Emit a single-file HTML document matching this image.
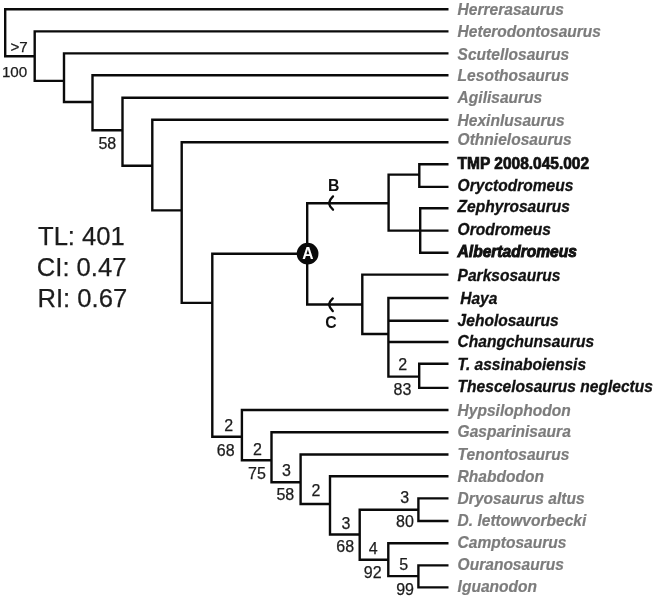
<!DOCTYPE html>
<html><head><meta charset="utf-8"><title>Phylogeny</title>
<style>
html,body{margin:0;padding:0;background:#fff;}
body{width:654px;height:600px;overflow:hidden;}
svg{display:block;filter:blur(0.45px);}
text{font-family:"Liberation Sans",sans-serif;}
.g,.b,.a,.h{font-weight:bold;font-style:italic;font-size:15.55px;}
.g{fill:#7c7c7c;stroke:#7c7c7c;stroke-width:0.2px;}
.b,.h{fill:#111;stroke:#111;stroke-width:0.3px;}
.a{fill:#111;stroke:#111;stroke-width:0.9px;}
.t{font-weight:bold;font-size:15.5px;fill:#111;stroke:#111;stroke-width:0.7px;}
.n{font-size:16px;fill:#1c1c1c;stroke:#1c1c1c;stroke-width:0.25px;text-anchor:middle;}
.s{font-size:25.6px;fill:#1c1c1c;stroke:#1c1c1c;stroke-width:0.25px;}
.l{font-weight:bold;font-size:15.8px;fill:#111;text-anchor:middle;}
</style></head>
<body>
<svg width="654" height="600" viewBox="0 0 654 600">
<rect width="654" height="600" fill="#fff"/>
<path d="M5.2 8.0V57.4M4.0 9.2H448.5M4.0 56.2H35.9M34.7 30.2V82.1M33.5 31.4H448.5M33.5 80.9H65.2M64.0 52.2V103.2M62.8 53.4H448.5M62.8 102.0H93.7M92.5 74.1V131.5M91.3 75.3H448.5M91.3 130.3H123.7M122.5 96.5V166.9M121.3 97.7H448.5M121.3 165.7H153.5M152.3 118.5V211.6M151.1 119.8H448.5M151.1 210.4H182.9M181.7 141.1V304.1M180.5 142.2H448.5M180.5 302.9H213.5M212.3 252.6V437.9M211.1 253.8H308.2M307.2 202.0V305.7M306.0 203.2H389.8M388.6 173.4V231.8M387.4 174.6H420.5M419.3 163.1V188.1M418.1 164.3H448.5M418.1 186.9H448.5M387.4 230.6H448.5M420.2 207.0V254.0M419.0 208.2H448.5M419.0 252.8H448.5M306.0 304.5H363.5M362.3 273.4V335.2M361.1 274.6H448.5M361.1 334.0H389.6M388.4 296.8V377.8M387.2 298.0H448.5M387.2 320.8H448.5M387.2 342.0H448.5M387.2 376.6H420.4M419.2 362.6V389.1M418.0 363.8H448.5M418.0 387.9H448.5M211.1 436.7H243.1M241.9 408.8V461.4M240.7 410.0H448.5M240.7 460.2H272.7M271.5 431.0V483.5M270.3 432.2H448.5M270.3 482.3H301.8M300.6 453.3V505.2M299.4 454.5H448.5M299.4 504.0H331.2M330.0 475.0V535.7M328.8 476.2H448.5M328.8 534.5H360.9M359.7 508.5V561.0M358.5 509.7H419.6M418.4 497.2V522.2M417.2 498.4H448.5M417.2 521.0H448.5M358.5 559.8H389.5M388.3 542.1V577.3M387.1 543.3H448.5M387.1 576.1H419.6M418.4 564.2V588.6M417.2 565.4H448.5M417.2 587.4H448.5" stroke="#0a0a0a" stroke-width="2.4" fill="none"/>
<circle cx="307.6" cy="253.7" r="10.85" fill="#0a0a0a"/>
<text x="308" y="258.6" font-weight="bold" font-size="15.6" fill="#fff" text-anchor="middle">A</text>
<path d="M333 196.4Q329.6 199.6 329 203.2Q329.6 206.8 333 209.7" stroke="#0a0a0a" stroke-width="2.3" stroke-linecap="round" stroke-linejoin="round" fill="none"/>
<path d="M332.8 298.4Q329.5 301.4 329 304.5Q329.5 307.9 332.8 311.1" stroke="#0a0a0a" stroke-width="2.3" stroke-linecap="round" stroke-linejoin="round" fill="none"/>
<text class="l" x="333.7" y="190.5">B</text>
<text class="l" x="330.9" y="328">C</text>
<text class="s" x="38" y="244.5">TL: 401</text>
<text class="s" x="36.8" y="275.8">CI: 0.47</text>
<text class="s" x="37.5" y="307.3">RI: 0.67</text>
<text class="g" transform="translate(457.6 14.9) scale(1 1.04)">Herrerasaurus</text>
<text class="g" transform="translate(457.6 37.2) scale(1 1.04)">Heterodontosaurus</text>
<text class="g" transform="translate(457.6 59.5) scale(1 1.04)">Scutellosaurus</text>
<text class="g" transform="translate(457.6 81.4) scale(1 1.04)">Lesothosaurus</text>
<text class="g" transform="translate(457.6 103.2) scale(1 1.04)">Agilisaurus</text>
<text class="g" transform="translate(457.6 125.7) scale(1 1.04)">Hexinlusaurus</text>
<text class="g" transform="translate(457.6 145.2) scale(1 1.04)">Othnielosaurus</text>
<text class="t" transform="translate(457.6 168.5) scale(1 1.04)">TMP 2008.045.002</text>
<text class="b" transform="translate(457.6 190.7) scale(1 1.04)">Oryctodromeus</text>
<text class="b" transform="translate(457.6 212.4) scale(1 1.04)">Zephyrosaurus</text>
<text class="b" transform="translate(457.6 234.9) scale(1 1.04)">Orodromeus</text>
<text class="a" transform="translate(457.6 256.9) scale(1 1.04)">Albertadromeus</text>
<text class="b" transform="translate(457.6 280.7) scale(1 1.04)">Parksosaurus</text>
<text class="h" transform="translate(460.2 303.9) scale(1 1.04)">Haya</text>
<text class="b" transform="translate(457.6 326.2) scale(1 1.04)">Jeholosaurus</text>
<text class="b" transform="translate(457.6 346.9) scale(1 1.04)">Changchunsaurus</text>
<text class="b" transform="translate(457.6 370.2) scale(1 1.04)">T. assinaboiensis</text>
<text class="b" transform="translate(457.6 392.2) scale(1 1.04)">Thescelosaurus neglectus</text>
<text class="g" transform="translate(457.6 415.7) scale(1 1.04)">Hypsilophodon</text>
<text class="g" transform="translate(457.6 437.4) scale(1 1.04)">Gasparinisaura</text>
<text class="g" transform="translate(457.6 460.2) scale(1 1.04)">Tenontosaurus</text>
<text class="g" transform="translate(457.6 481.9) scale(1 1.04)">Rhabdodon</text>
<text class="g" transform="translate(457.6 504.0) scale(1 1.04)">Dryosaurus altus</text>
<text class="g" transform="translate(457.6 526.4) scale(1 1.04)">D. lettowvorbecki</text>
<text class="g" transform="translate(457.6 548.2) scale(1 1.04)">Camptosaurus</text>
<text class="g" transform="translate(457.6 570.4) scale(1 1.04)">Ouranosaurus</text>
<text class="g" transform="translate(457.6 592.4) scale(1 1.04)">Iguanodon</text>
<text class="n" style="font-size:15.2px" x="19.1" y="52.0">&gt;7</text>
<text class="n" style="font-size:15.2px" x="14.6" y="76.9">100</text>
<text class="n" x="107.3" y="149.3">58</text>
<text class="n" x="402.8" y="370.1">2</text>
<text class="n" x="402.5" y="394.6">83</text>
<text class="n" x="228.8" y="431.3">2</text>
<text class="n" x="225.7" y="456.0">68</text>
<text class="n" x="257.4" y="454.8">2</text>
<text class="n" x="257.0" y="478.8">75</text>
<text class="n" x="286.4" y="475.6">3</text>
<text class="n" x="285.3" y="500.2">58</text>
<text class="n" x="316.0" y="496.3">2</text>
<text class="n" x="346.0" y="528.8">3</text>
<text class="n" x="345.2" y="551.9">68</text>
<text class="n" x="404.6" y="503.0">3</text>
<text class="n" x="404.9" y="526.8">80</text>
<text class="n" x="373.1" y="554.4">4</text>
<text class="n" x="372.7" y="578.2">92</text>
<text class="n" x="403.6" y="570.2">5</text>
<text class="n" x="405.1" y="595.0">99</text>
</svg>
</body></html>
